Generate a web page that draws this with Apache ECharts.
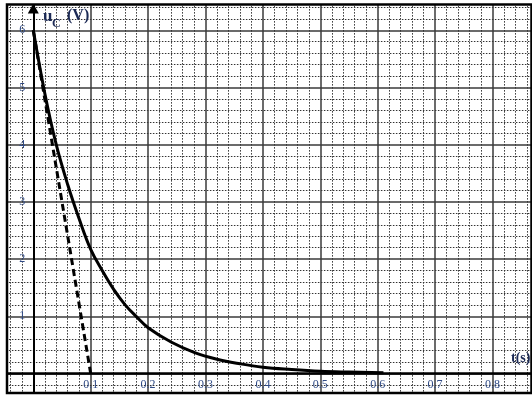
<!DOCTYPE html>
<html>
<head>
<meta charset="utf-8">
<script src="https://cdn.jsdelivr.net/npm/echarts@6/dist/echarts.min.js"></script>
<style>html,body{margin:0;padding:0;background:#fff}#c{width:532px;height:398px}</style>
</head>
<body>
<div id="c"></div>
<script>
// Discharge curve u_C(t)
const times = [0, 0.02, 0.04, 0.06, 0.08, 0.1, 0.12, 0.14, 0.16, 0.18, 0.2, 0.24, 0.28, 0.32, 0.36, 0.4, 0.45, 0.5, 0.55, 0.61];
const voltages = [6.0, 4.9, 4.0, 3.3, 2.7, 2.17, 1.8, 1.47, 1.2, 0.99, 0.8, 0.55, 0.37, 0.25, 0.17, 0.11, 0.07, 0.04, 0.025, 0.012];
// Tangent at origin
const tangentTimes = [0, 0.1];
const tangentVoltages = [6, 0];
// Tick labels
const xTickLabels = ['0.1', '0.2', '0.3', '0.4', '0.5', '0.6', '0.7', '0.8'];
const yTickLabels = ['1', '2', '3', '4', '5', '6'];

const curve = times.map((t, i) => [t, voltages[i]]);
const tangent = tangentTimes.map((t, i) => [t, tangentVoltages[i]]);

const labelColor = '#2f4a85';
const titleColor = '#1c2a55';
const serif = '"Liberation Serif", "DejaVu Serif", serif';

const chart = echarts.init(document.getElementById('c'), null, {renderer: 'canvas'});
chart.setOption({
  animation: false,
  backgroundColor: '#fff',
  grid: {left: -24.1, top: -26.9, width: 574, height: 457.6, containLabel: false, outerBoundsMode: 'none'},
  xAxis: {
    type: 'value', min: -0.1, max: 0.9, interval: 0.1,
    position: 'bottom', offset: -57.2,
    axisLine: {show: true, onZero: false, lineStyle: {color: '#000', width: 2.5}},
    axisTick: {show: false},
    minorTick: {show: false, splitNumber: 5},
    splitLine: {show: true, lineStyle: {color: '#3a3a3a', width: 1.5}},
    minorSplitLine: {show: true, lineStyle: {color: '#333', width: 1, type: [1.5, 1.5]}},
    axisLabel: {
      margin: 5, color: labelColor, fontFamily: serif, fontSize: 12,
      formatter: v => { const s = v.toFixed(1); return xTickLabels.includes(s) ? s : ''; }
    }
  },
  yAxis: {
    type: 'value', min: -1, max: 7, interval: 1,
    position: 'left', offset: -57.4,
    axisLine: {show: true, onZero: false, lineStyle: {color: '#000', width: 2}},
    axisTick: {show: false},
    minorTick: {show: false, splitNumber: 5},
    splitLine: {show: true, lineStyle: {color: '#3a3a3a', width: 1.5}},
    minorSplitLine: {show: true, lineStyle: {color: '#333', width: 1, type: [1.5, 1.5]}},
    axisLabel: {
      margin: 8, color: labelColor, fontFamily: serif, fontSize: 12,
      formatter: v => { const s = String(Math.round(v)); return yTickLabels.includes(s) ? s : ''; }
    }
  },
  series: [
    {
      type: 'line', data: curve, smooth: 0.4, symbol: 'none',
      lineStyle: {color: '#000', width: 3}, z: 5
    },
    {
      type: 'line', data: tangent, symbol: 'none',
      lineStyle: {color: '#000', width: 3, type: [7, 4]}, z: 4,
      markPoint: {
        symbol: 'triangle', symbolSize: [11, 10], silent: true,
        itemStyle: {color: '#000'}, label: {show: false},
        data: [{coord: [0, 6.38]}]
      }
    }
  ],
  graphic: [
    {type: 'rect', z: 100, shape: {x: 0, y: 0, width: 532, height: 4}, style: {fill: '#fff'}},
    {type: 'rect', z: 100, shape: {x: 0, y: 393, width: 532, height: 5}, style: {fill: '#fff'}},
    {type: 'rect', z: 100, shape: {x: 0, y: 0, width: 6.5, height: 398}, style: {fill: '#fff'}},
    {type: 'rect', z: 101, shape: {x: 7, y: 4.5, width: 524.5, height: 388.5}, style: {fill: 'none', stroke: '#000', lineWidth: 2.5}},
    {type: 'text', z: 102, left: 43, top: 8, style: {
      text: 'u', fontFamily: serif, fontSize: 17, fontWeight: 'bold', fill: titleColor
    }},
    {type: 'text', z: 102, left: 52, top: 18, style: {
      text: 'C', fontFamily: serif, fontSize: 12, fontWeight: 'bold', fill: titleColor
    }},
    {type: 'text', z: 102, left: 67, top: 8, style: {
      text: '(V)', fontFamily: serif, fontSize: 16, fontWeight: 'bold', fill: titleColor
    }},
    {type: 'text', z: 102, left: 511, top: 351, style: {
      text: 't(s)', fontFamily: serif, fontSize: 14, fontWeight: 'bold', fill: titleColor
    }}
  ]
});
</script>
</body>
</html>
